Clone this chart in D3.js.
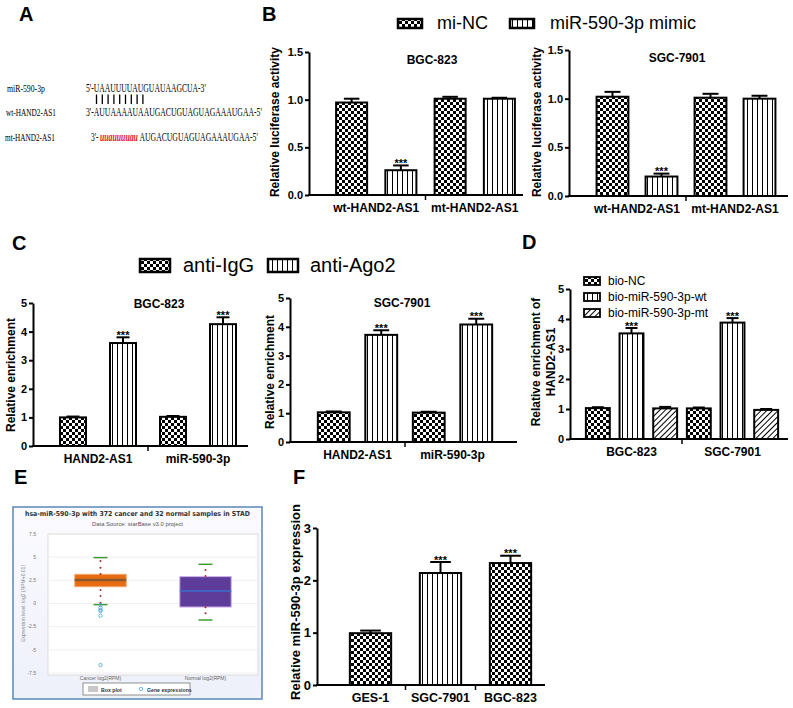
<!DOCTYPE html>
<html><head><meta charset="utf-8">
<script src="https://cdn.jsdelivr.net/npm/d3@7"></script>
<style>body{margin:0;background:#fff} svg{display:block}</style>
</head><body>
<svg id="c" width="793" height="708"></svg>
<script>
// ---------------- DATA ----------------
// Panel A
const aMiR = "5'-UAAUUUUAUGUAUAAGCUA-3'";
const aWt = "3'-AUUAAAAUAAUGACUGUAGUAGAAAUGAA-5'";
const aMtPrefix = "3'-";
const aMtMut = "uuauuuuau";
const aMtRest = "AUGACUGUAGUAGAAAUGAA-5'";
const aNames = ["miR-590-3p", "wt-HAND2-AS1", "mt-HAND2-AS1"];
const aPairs = d3.range(9);

// Panel B
const bSeries = ["mi-NC", "miR-590-3p mimic"];
const bGroups = ["wt-HAND2-AS1", "mt-HAND2-AS1"];
const bBGCValues = [0.97, 0.26, 1.01, 1.01];
const bBGCErrors = [0.04, 0.05, 0.02, 0.01];
const bSGCValues = [1.02, 0.20, 1.01, 1.00];
const bSGCErrors = [0.05, 0.03, 0.04, 0.03];
const bStars = ["", "***", "", ""];
const bTicks = [0, 0.5, 1.0, 1.5];

// Panel C
const cSeries = ["anti-IgG", "anti-Ago2"];
const cGroups = ["HAND2-AS1", "miR-590-3p"];
const cBGCValues = [1.00, 3.60, 1.02, 4.26];
const cBGCErrors = [0.03, 0.20, 0.03, 0.24];
const cSGCValues = [1.03, 3.72, 1.02, 4.08];
const cSGCErrors = [0.03, 0.16, 0.03, 0.20];
const cStars = ["", "***", "", "***"];
const cTicks = [0, 1, 2, 3, 4, 5];

// Panel D
const dSeries = ["bio-NC", "bio-miR-590-3p-wt", "bio-miR-590-3p-mt"];
const dGroups = ["BGC-823", "SGC-7901"];
const dValues = [1.03, 3.52, 1.02, 1.02, 3.88, 0.97];
const dErrors = [0.03, 0.18, 0.05, 0.03, 0.15, 0.03];
const dStars = ["", "***", "", "", "***", ""];
const dTicks = [0, 1, 2, 3, 4, 5];

// Panel E (starBase box plot)
const eCategories = ["Cancer log2(RPM)", "Normal log2(RPM)"];
const eQ1 = [1.81, -0.38];
const eMedian = [2.54, 1.35];
const eQ3 = [3.15, 2.90];
const eWhiskerLow = [-0.12, -1.78];
const eWhiskerHigh = [4.95, 4.23];
const eDotsCancer = [4.59, 3.86, 3.18, 1.46, 0.81, 0.09];
const eDotsNormal = [3.62, 2.97, -0.41, -1.06];
const eOutliersCancer = [-0.16, -0.45, -0.7, -0.81, -1.32, -6.64];
const eTicks = [7.5, 5, 2.5, 0, -2.5, -5, -7.5];

// Panel F
const fCategories = ["GES-1", "SGC-7901", "BGC-823"];
const fValues = [0.99, 2.14, 2.33];
const fErrors = [0.05, 0.21, 0.14];
const fStars = ["", "***", "***"];
const fTicks = [0, 1, 2, 3];

// ---------------- DRAWING ----------------
const svg = d3.select("#c");
const FONT = "'Liberation Sans', Arial, sans-serif";
const SERIF = "'Liberation Serif', 'Times New Roman', serif";
const defs = svg.append("defs");

const pc = defs.append("pattern").attr("id", "checker").attr("patternUnits", "userSpaceOnUse").attr("width", 6).attr("height", 6);
pc.append("rect").attr("width", 6).attr("height", 6).attr("fill", "#fff");
pc.append("rect").attr("width", 3).attr("height", 3).attr("fill", "#000");
pc.append("rect").attr("x", 3).attr("y", 3).attr("width", 3).attr("height", 3).attr("fill", "#000");

const ps = defs.append("pattern").attr("id", "stripe").attr("patternUnits", "userSpaceOnUse").attr("width", 5).attr("height", 5);
ps.append("rect").attr("width", 5).attr("height", 5).attr("fill", "#fff");
ps.append("rect").attr("x", 2).attr("width", 1).attr("height", 5).attr("fill", "#000");

const ph = defs.append("pattern").attr("id", "hatch").attr("patternUnits", "userSpaceOnUse").attr("width", 4).attr("height", 4).attr("patternTransform", "rotate(45)");
ph.append("rect").attr("width", 4).attr("height", 4).attr("fill", "#fff");
ph.append("rect").attr("width", 1).attr("height", 4).attr("fill", "#000");

function txt(g, s, x, y, size, opts = {}) {
  const t = g.append("text").attr("x", x).attr("y", y).text(s)
    .attr("font-family", opts.family || FONT).attr("font-size", size)
    .attr("font-weight", opts.weight || "normal").attr("fill", opts.fill || "#000")
    .attr("text-anchor", opts.anchor || "start");
  if (opts.len) t.attr("textLength", opts.len).attr("lengthAdjust", "spacingAndGlyphs");
  if (opts.style) t.attr("font-style", opts.style);
  return t;
}

// text squeezed horizontally to a target width via transform (keeps bbox honest)
function fitText(g, s, x, y, size, width, opts = {}) {
  const gg = g.append("g");
  const t = gg.append("text").attr("x", 0).attr("y", 0).text(s)
    .attr("font-family", SERIF).attr("font-size", size)
    .attr("font-weight", opts.weight || "normal").attr("fill", opts.fill || "#000");
  if (opts.style) t.attr("font-style", opts.style);
  const w = t.node().getComputedTextLength();
  gg.attr("transform", `translate(${x},${y}) scale(${width / w},1)`);
  return gg;
}

// Panel letters
[["A", 19, 21], ["B", 262, 21], ["C", 12, 250], ["D", 522, 249], ["E", 14, 484], ["F", 293, 484]].forEach(d =>
  txt(svg, d[0], d[1], d[2], 20, { weight: "bold" }));

// ---- Panel A ----
const ga = svg.append("g");
fitText(ga, aNames[0], 7, 92, 11, 38);
fitText(ga, aMiR, 86, 92, 11.5, 120);
ga.selectAll("line.pair").data(aPairs).join("line")
  .attr("x1", d => 96.5 + d * 5.8).attr("x2", d => 96.5 + d * 5.8)
  .attr("y1", 94.5).attr("y2", 104).attr("stroke", "#000").attr("stroke-width", 1.3);
fitText(ga, aNames[1], 6, 116, 11, 50);
fitText(ga, aWt, 86, 116, 11.5, 176);
fitText(ga, aNames[2], 5, 141, 11, 50);
fitText(ga, aMtPrefix, 91, 141, 11.5, 7.5);
fitText(ga, aMtMut, 100, 141, 11.5, 38, { fill: "#e0201c", style: "italic", weight: "bold" });
fitText(ga, aMtRest, 139.5, 141, 11.5, 118.5);

// ---- generic bar chart ----
function barChart(o) {
  const g = svg.append("g");
  const y = d3.scaleLinear().domain([0, o.max]).range([o.yBottom, o.yTop]);
  const n = o.values.length;
  const x = d3.scaleBand().domain(d3.range(n)).range(o.band).paddingInner(o.pad).paddingOuter(o.pad / 2);
  const bw = x.bandwidth();
  g.selectAll("rect.bar").data(o.values).join("rect").attr("class", "bar")
    .attr("x", (d, i) => x(i)).attr("y", d => y(d)).attr("width", bw).attr("height", d => y(0) - y(d))
    .attr("fill", (d, i) => `url(#${o.patterns[i]})`).attr("stroke", "#000").attr("stroke-width", 2);
  g.selectAll("line.err").data(o.values).join("line").attr("class", "err")
    .attr("x1", (d, i) => x(i) + bw / 2).attr("x2", (d, i) => x(i) + bw / 2)
    .attr("y1", d => y(d)).attr("y2", (d, i) => y(d + o.errors[i])).attr("stroke", "#000").attr("stroke-width", 2);
  g.selectAll("line.cap").data(o.values).join("line").attr("class", "cap")
    .attr("x1", (d, i) => x(i) + bw * 0.25).attr("x2", (d, i) => x(i) + bw * 0.75)
    .attr("y1", (d, i) => y(d + o.errors[i])).attr("y2", (d, i) => y(d + o.errors[i]))
    .attr("stroke", "#000").attr("stroke-width", 2);
  g.selectAll("text.star").data(o.values).join("text").attr("class", "star")
    .attr("x", (d, i) => x(i) + bw / 2).attr("y", (d, i) => y(d + o.errors[i]) + 1.5)
    .attr("text-anchor", "middle").attr("font-family", FONT).attr("font-size", 11).attr("font-weight", "bold")
    .text((d, i) => o.stars[i]);
  const ya = d3.axisLeft(y).tickValues(o.ticks).tickFormat(o.fmt).tickSize(4).tickSizeOuter(0).tickPadding(2);
  const ag = g.append("g").attr("transform", `translate(${o.axisX},0)`).call(ya);
  ag.select(".domain").attr("stroke-width", 2).attr("stroke", "#000");
  ag.selectAll(".tick line").attr("stroke-width", 2).attr("stroke", "#000");
  ag.selectAll("text").attr("font-family", FONT).attr("font-weight", "bold").attr("font-size", o.tickFont || 11).attr("fill", "#000");
  g.append("line").attr("x1", o.axisX - 1).attr("x2", o.axisEnd).attr("y1", y(0)).attr("y2", y(0))
    .attr("stroke", "#000").attr("stroke-width", 2);
  const gs = n / o.groups.length;
  const center = i => x(i) + bw / 2;
  o.groups.forEach((lab, k) => {
    const cx = (center(k * gs) + center(k * gs + gs - 1)) / 2;
    txt(g, lab, cx, y(0) + 17, o.labelFont || 12, { weight: "bold", anchor: "middle" });
    if (k > 0) {
      const mx = (center(k * gs - 1) + center(k * gs)) / 2;
      g.append("line").attr("x1", mx).attr("x2", mx).attr("y1", y(0)).attr("y2", y(0) + 5)
        .attr("stroke", "#000").attr("stroke-width", 1.5);
    }
  });
  if (o.title) txt(g, o.title, o.titleX, o.titleY, 12, { weight: "bold", anchor: "middle" });
  o.ylabel.forEach((lab, k) => {
    g.append("text").attr("transform", `translate(${o.ylabX + k * o.ylabGap},${o.ylabY}) rotate(-90)`)
      .attr("text-anchor", "middle").attr("font-family", FONT).attr("font-weight", "bold")
      .attr("font-size", o.ylabFont || 12).text(lab);
  });
  return g;
}

// ---- Panel B legend ----
const bPat = ["checker", "stripe"];
[[398, 437], [510, 550]].forEach((p, i) => {
  svg.append("rect").attr("x", p[0]).attr("y", 19).attr("width", 24).attr("height", 9)
    .attr("fill", `url(#${bPat[i]})`).attr("stroke", "#000").attr("stroke-width", 2.5);
  txt(svg, bSeries[i], p[1], 29, 18);
});

barChart({ values: bBGCValues, errors: bBGCErrors, stars: bStars, patterns: ["checker", "stripe", "checker", "stripe"],
  max: 1.5, yBottom: 195, yTop: 52, ticks: bTicks, fmt: d3.format(".1f"), band: [327, 524], pad: 0.37,
  axisX: 309, axisEnd: 523, groups: bGroups, title: "BGC-823", titleX: 432, titleY: 64,
  ylabel: ["Relative luciferase activity"], ylabX: 279, ylabY: 122, ylabGap: 0 });
barChart({ values: bSGCValues, errors: bSGCErrors, stars: bStars, patterns: ["checker", "stripe", "checker", "stripe"],
  max: 1.5, yBottom: 196, yTop: 50, ticks: bTicks, fmt: d3.format(".1f"), band: [588, 784], pad: 0.35,
  axisX: 569, axisEnd: 788, groups: bGroups, title: "SGC-7901", titleX: 677, titleY: 62,
  ylabel: ["Relative luciferase activity"], ylabX: 541, ylabY: 122, ylabGap: 0 });

// ---- Panel C legend ----
[[140, 183], [268, 310]].forEach((p, i) => {
  svg.append("rect").attr("x", p[0]).attr("y", 259).attr("width", 30).attr("height", 13)
    .attr("fill", `url(#${bPat[i]})`).attr("stroke", "#000").attr("stroke-width", 2.5);
  txt(svg, cSeries[i], p[1], 272, 20);
});

barChart({ values: cBGCValues, errors: cBGCErrors, stars: cStars, patterns: ["checker", "stripe", "checker", "stripe"],
  max: 5, yBottom: 446, yTop: 303, ticks: cTicks, fmt: d3.format("d"), band: [48, 248], pad: 0.48,
  axisX: 33, axisEnd: 248, groups: cGroups, title: "BGC-823", titleX: 159, titleY: 308,
  ylabel: ["Relative enrichment"], ylabX: 15, ylabY: 375, ylabGap: 0 });
barChart({ values: cSGCValues, errors: cSGCErrors, stars: cStars, patterns: ["checker", "stripe", "checker", "stripe"],
  max: 5, yBottom: 442, yTop: 298, ticks: cTicks, fmt: d3.format("d"), band: [310, 500], pad: 0.33,
  axisX: 290, axisEnd: 517, groups: cGroups, title: "SGC-7901", titleX: 402, titleY: 307,
  ylabel: ["Relative enrichment"], ylabX: 274, ylabY: 372, ylabGap: 0 });

// ---- Panel D ----
const dPat = ["checker", "stripe", "hatch"];
dSeries.forEach((s, i) => {
  svg.append("rect").attr("x", 584).attr("y", 277 + i * 16).attr("width", 16).attr("height", 8)
    .attr("fill", `url(#${dPat[i]})`).attr("stroke", "#000").attr("stroke-width", 1.8);
  txt(svg, s, 608, 285 + i * 16, 12);
});
barChart({ values: dValues, errors: dErrors, stars: dStars, patterns: ["checker", "stripe", "hatch", "checker", "stripe", "hatch"],
  max: 5, yBottom: 439, yTop: 289, ticks: dTicks, fmt: d3.format("d"), band: [581, 783], pad: 0.29,
  axisX: 570, axisEnd: 788, groups: dGroups,
  ylabel: ["Relative enrichment of", "HAND2-AS1"], ylabX: 540, ylabY: 362, ylabGap: 15 });

// ---- Panel F ----
barChart({ values: fValues, errors: fErrors, stars: fStars, patterns: ["checker", "stripe", "checker"],
  max: 3, yBottom: 685, yTop: 528, ticks: fTicks, fmt: d3.format("d"), band: [335.5, 545.5], pad: 0.41,
  axisX: 317, axisEnd: 545, groups: fCategories, tickFont: 13, labelFont: 12.5,
  ylabel: ["Relative miR-590-3p expression"], ylabX: 300, ylabY: 602, ylabGap: 0, ylabFont: 13 });

// ---- Panel E ----
const ge = svg.append("g");
const grad = defs.append("linearGradient").attr("id", "ebg").attr("x1", 0).attr("y1", 0).attr("x2", 0).attr("y2", 1);
grad.append("stop").attr("offset", 0).attr("stop-color", "#fbfbff");
grad.append("stop").attr("offset", 1).attr("stop-color", "#eef0fa");
ge.append("rect").attr("x", 13).attr("y", 507).attr("width", 249).attr("height", 192)
  .attr("fill", "url(#ebg)").attr("stroke", "#5b88b9").attr("stroke-width", 1.5);
txt(ge, "hsa-miR-590-3p with 372 cancer and 32 normal samples in STAD", 137.5, 516, 6.8,
  { family: "'DejaVu Sans', sans-serif", weight: "bold", anchor: "middle", fill: "#333", len: 225 });
txt(ge, "Data Source: starBase v3.0 project", 137.5, 526, 5, { anchor: "middle", fill: "#555", len: 91 });
const eY = d3.scaleLinear().domain([-7.5, 7.5]).range([673, 534]);
const eX = d3.scaleBand().domain(eCategories).range([48, 258]);
ge.append("rect").attr("x", 48).attr("y", 534).attr("width", 210).attr("height", 141).attr("fill", "#fff").attr("stroke", "#d4d4d4").attr("stroke-width", 0.8);
ge.selectAll("line.grid").data(eTicks).join("line").attr("x1", 48).attr("x2", 258)
  .attr("y1", d => eY(d)).attr("y2", d => eY(d)).attr("stroke", "#ececec").attr("stroke-width", 0.8);
ge.selectAll("text.etick").data(eTicks).join("text").attr("x", 36).attr("y", d => eY(d) + 1.7)
  .attr("text-anchor", "end").attr("font-family", FONT).attr("font-size", 5).attr("fill", "#777").text(d => d);
ge.append("text").attr("transform", `translate(25,${(eY(7.5) + eY(-7.5)) / 2}) rotate(-90)`).attr("text-anchor", "middle")
  .attr("font-family", FONT).attr("font-size", 5).attr("fill", "#888").text("Expression level: log2 (RPM+0.01)");
ge.selectAll("text.ecat").data(eCategories).join("text").attr("x", d => eX(d) + eX.bandwidth() / 2).attr("y", 680)
  .attr("text-anchor", "middle").attr("font-family", FONT).attr("font-size", 5).attr("fill", "#666").text(d => d);
const boxFill = ["#e96b12", "#5d3d99"], boxStroke = ["#f3a974", "#cfaef0"], medCol = ["#8a5a2e", "#3a6fd0"], medW = [2.5, 1.5];
const bwE = eX.bandwidth() * 0.49;
eCategories.forEach((c, i) => {
  const cx = eX(c) + eX.bandwidth() / 2;
  ge.append("rect").attr("x", cx - bwE / 2).attr("y", eY(eQ3[i])).attr("width", bwE).attr("height", eY(eQ1[i]) - eY(eQ3[i]))
    .attr("fill", boxFill[i]).attr("stroke", boxStroke[i]).attr("stroke-width", 1);
  ge.append("line").attr("x1", cx - bwE / 2).attr("x2", cx + bwE / 2).attr("y1", eY(eMedian[i])).attr("y2", eY(eMedian[i]))
    .attr("stroke", medCol[i]).attr("stroke-width", medW[i]);
  [eWhiskerLow[i], eWhiskerHigh[i]].forEach(w => ge.append("line").attr("x1", cx - 7).attr("x2", cx + 7)
    .attr("y1", eY(w)).attr("y2", eY(w)).attr("stroke", "#3f9c35").attr("stroke-width", 1.5));
  const dots = i === 0 ? eDotsCancer : eDotsNormal;
  ge.selectAll(null).data(dots).join("circle").attr("cx", cx).attr("cy", d => eY(d)).attr("r", 1).attr("fill", "#a52a2a");
});
const cxC = eX(eCategories[0]) + eX.bandwidth() / 2;
ge.selectAll("circle.out").data(eOutliersCancer).join("circle").attr("class", "out").attr("cx", cxC).attr("cy", d => eY(d))
  .attr("r", 1.7).attr("fill", "none").attr("stroke", "#4aa3d8").attr("stroke-width", 0.8);
ge.append("rect").attr("x", 83).attr("y", 683).attr("width", 107).attr("height", 12).attr("fill", "#fff").attr("stroke", "#777").attr("stroke-width", 0.8);
ge.append("rect").attr("x", 88).attr("y", 686).attr("width", 10).attr("height", 6).attr("fill", "#c8c8c8");
txt(ge, "Box plot", 101, 691.5, 5.2, { weight: "bold", fill: "#333" });
ge.append("circle").attr("cx", 141).attr("cy", 689).attr("r", 1.7).attr("fill", "none").attr("stroke", "#4aa3d8").attr("stroke-width", 0.8);
txt(ge, "Gene expressions", 147, 691.5, 5.2, { weight: "bold", fill: "#333" });
</script></body></html>
